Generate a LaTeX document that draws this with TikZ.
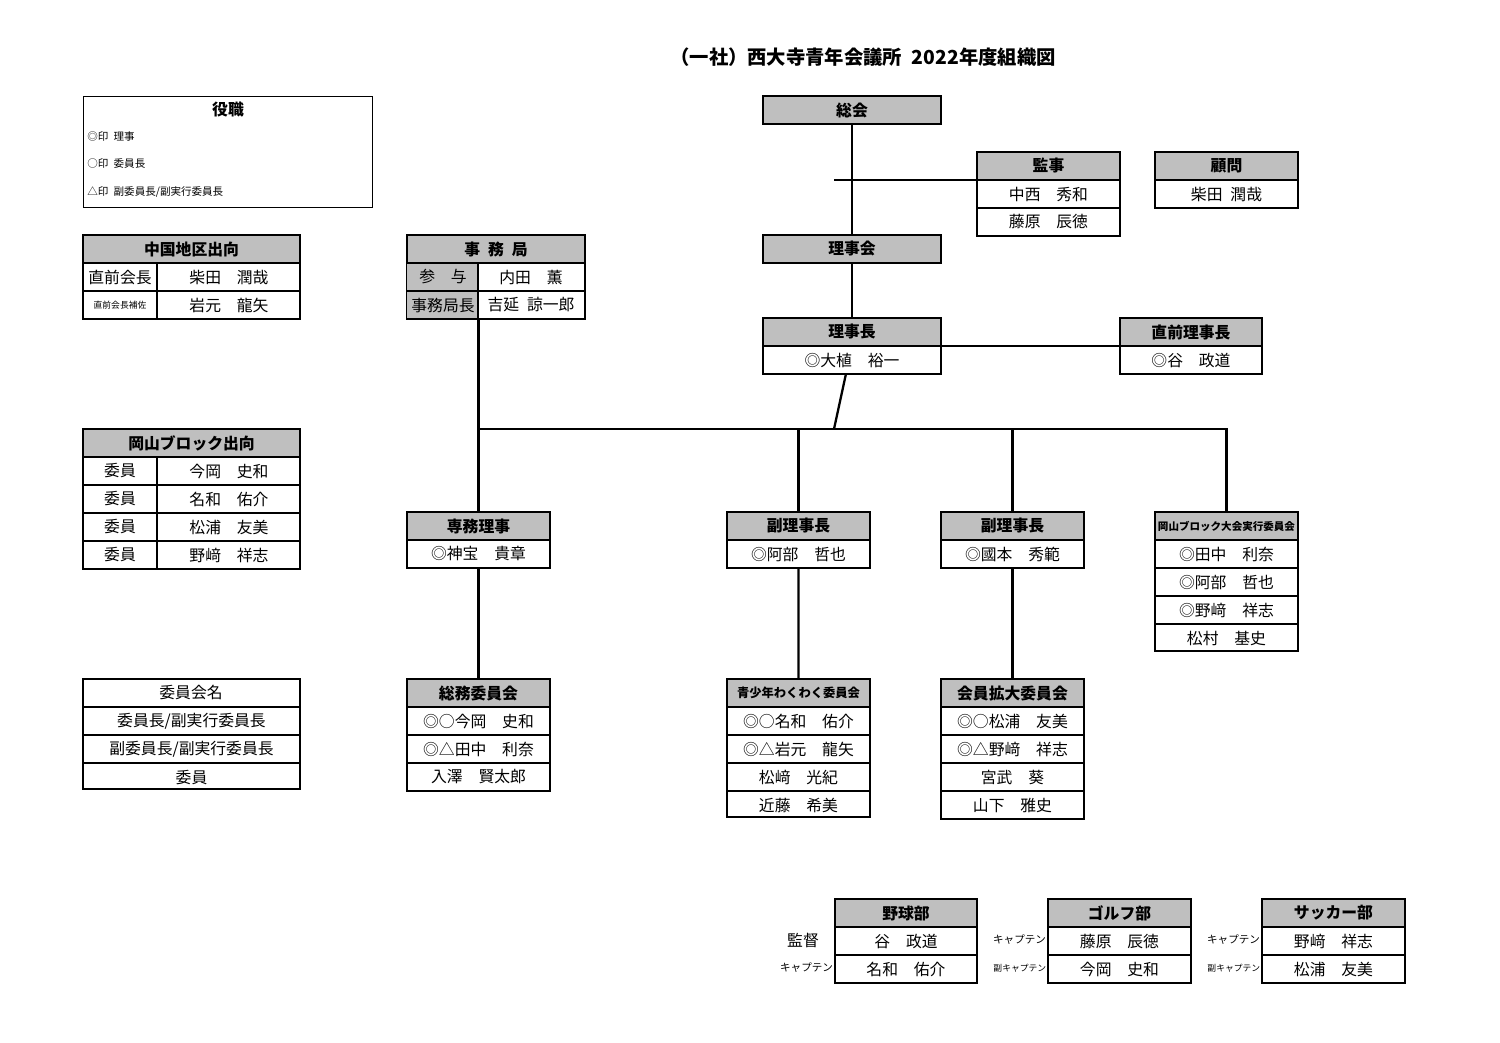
\documentclass[tikz,border=0pt]{standalone}
\usepackage{fontspec}
\setmainfont{Noto Sans CJK JP}
\usetikzlibrary{positioning, calc}

\tikzset{
  outerbox/.style={draw=black, line width=1.3pt, inner sep=0pt, outer sep=0pt},
  innerline/.style={draw=black, line width=0.6pt},
  headfill/.style={fill=black!25},
  link/.style={draw=black, line width=1.3pt},
  celltext/.style={inner sep=0pt, font=\fontsize{9}{10}\selectfont},
  headtext/.style={inner sep=0pt, font=\fontsize{9}{10}\selectfont\bfseries},
  smalltext/.style={inner sep=0pt, font=\fontsize{6}{7}\selectfont},
}

% #1 name, #2 left, #3 top, #4 width, #5 number of rows, #6 header
\newcommand\orgbox[6]{%
  \fill[headfill] (#2,#3) rectangle ++(#4,28);
  \node[headtext] at (#2+#4/2,#3+14) {#6};
  \node[outerbox, minimum width={#4*0.02cm}, minimum height={(28*#5+28)*0.02cm},
        anchor=north west] (#1) at (#2,#3) {};
}
% single column rows: #1 left, #2 top of first row, #3 width, #4 list
\newcommand\orgrows[4]{%
  \foreach \t [count=\k] in {#4} {
    \draw[innerline] (#1,#2+28*\k-28) -- ++(#3,0);
    \node[celltext] at (#1+#3/2,#2+28*\k-14) {\t};
  }
}
% two column rows: #1 left, #2 top, #3 width, #4 divider x, #5 list a/b
\newcommand\orgrowsii[5]{%
  \draw[innerline] (#4,#2) -- ++(0,28*\value{dummy});
}

\begin{document}
\begin{tikzpicture}[x=0.02cm, y=-0.02cm]
  \fill[white] (0,0) rectangle (1500,1042);
  \useasboundingbox (0,0) rectangle (1500,1042);

  % title
  \node[inner sep=0pt, font=\fontsize{11}{12}\selectfont\bfseries] (title) at (863,57)
    {（一社）西大寺青年会議所\enspace 2022年度組織図};

  % legend of posts
  \node[draw, line width=0.8pt, minimum width=5.78cm, minimum height=2.22cm,
        anchor=north west, inner sep=0pt] (yakushoku) at (83,96) {};
  \node[headtext] at (228,110) {役職};
  \node[smalltext, anchor=west] at (87,137) {◎印\enspace 理事};
  \node[smalltext, anchor=west] at (87,164) {○印\enspace 委員長};
  \node[smalltext, anchor=west] at (87,192) {△印\enspace 副委員長/副実行委員長};

  % left column
  \orgbox{chugoku}{83}{235}{217}{2}{中国地区出向}
  \foreach \a/\b [count=\k] in {{\fontsize{9}{10}\selectfont 直前会長}/柴田\quad 潤哉, {\fontsize{5}{6}\selectfont 直前会長補佐}/岩元\quad 龍矢} {
    \draw[innerline] (83,235+28*\k) -- ++(217,0);
    \node[celltext] at (120,249+28*\k) {\a};
    \node[celltext] at (229,249+28*\k) {\b};
  }
  \draw[innerline] (157,263) -- (157,318);

  \orgbox{okablock}{83}{429}{217}{4}{岡山ブロック出向}
  \foreach \b [count=\k] in {今岡\quad 史和, 名和\quad 佑介, 松浦\quad 友美, 野﨑\quad 祥志} {
    \draw[innerline] (83,429+28*\k) -- ++(217,0);
    \node[celltext] at (120,443+28*\k) {委員};
    \node[celltext] at (229,443+28*\k) {\b};
  }
  \draw[innerline] (157,457) -- (157,568);

  \node[outerbox, minimum width=4.34cm, minimum height=2.2cm, anchor=north west]
    (iinkaimei) at (83,679) {};
  \node[celltext] at (191,692) {委員会名};
  \orgrows{83}{707}{217}{委員長/副実行委員長, 副委員長/副実行委員長, 委員}

  % secretariat
  \orgbox{jimukyoku}{407}{235}{178}{2}{事\enspace 務\enspace 局}
  \fill[headfill] (407,263) rectangle (478,318);
  \foreach \a/\b [count=\k] in {参\quad 与/内田\quad 薫, 事務局長/吉延\enspace 諒一郎} {
    \draw[innerline] (407,235+28*\k) -- ++(178,0);
    \node[celltext] at (443,249+28*\k) {\a};
    \node[celltext] at (531,249+28*\k) {\b};
  }
  \draw[innerline] (478,263) -- (478,318);

  % top of the tree
  \orgbox{soukai}{763}{96}{178}{0}{総会}
  \orgbox{kanji}{977}{152}{143}{2}{監事}
  \orgrows{977}{180}{143}{中西\quad 秀和, 藤原\quad 辰徳}
  \orgbox{komon}{1155}{152}{143}{1}{顧問}
  \orgrows{1155}{180}{143}{柴田\enspace 潤哉}
  \orgbox{rijikai}{763}{235}{178}{0}{理事会}
  \orgbox{rijicho}{763}{318}{178}{1}{理事長}
  \orgrows{763}{346}{178}{◎大植\quad 裕一}
  \orgbox{chokuzen}{1120}{318}{142}{1}{直前理事長}
  \orgrows{1120}{346}{142}{◎谷\quad 政道}

  % vice directors
  \orgbox{senmu}{407}{512}{143}{1}{専務理事}
  \orgrows{407}{540}{143}{◎神宝\quad 貴章}
  \orgbox{fukuA}{727}{512}{143}{1}{副理事長}
  \orgrows{727}{540}{143}{◎阿部\quad 哲也}
  \orgbox{fukuB}{941}{512}{143}{1}{副理事長}
  \orgrows{941}{540}{143}{◎國本\quad 秀範}
  \fill[headfill] (1155,512) rectangle ++(143,28);
  \node[smalltext, font=\fontsize{6}{7}\selectfont\bfseries] at (1226.5,526) {岡山ブロック大会実行委員会};
  \node[outerbox, minimum width=2.86cm, minimum height=2.78cm, anchor=north west]
    (taikai) at (1155,512) {};
  \orgrows{1155}{540}{143}{◎田中\quad 利奈, ◎阿部\quad 哲也, ◎野﨑\quad 祥志, 松村\quad 基史}

  % committees
  \orgbox{soumu}{407}{679}{143}{3}{総務委員会}
  \orgrows{407}{707}{143}{◎○今岡\quad 史和, ◎△田中\quad 利奈, 入澤\quad 賢太郎}
  \fill[headfill] (727,679) rectangle ++(143,28);
  \node[smalltext, font=\fontsize{7}{8}\selectfont\bfseries] at (798.5,693) {青少年わくわく委員会};
  \node[outerbox, minimum width=2.86cm, minimum height=2.76cm, anchor=north west]
    (seishonen) at (727,679) {};
  \orgrows{727}{707}{143}{◎○名和\quad 佑介, ◎△岩元\quad 龍矢, 松﨑\quad 光紀, 近藤\quad 希美}
  \orgbox{kakudai}{941}{679}{143}{4}{会員拡大委員会}
  \orgrows{941}{707}{143}{◎○松浦\quad 友美, ◎△野﨑\quad 祥志, 宮武\quad 葵, 山下\quad 雅史}

  % clubs
  \orgbox{yakyu}{835}{899}{142}{2}{野球部}
  \orgrows{835}{927}{142}{谷\quad 政道, 名和\quad 佑介}
  \orgbox{golf}{1048}{899}{143}{2}{ゴルフ部}
  \orgrows{1048}{927}{143}{藤原\quad 辰徳, 今岡\quad 史和}
  \orgbox{soccer}{1262}{899}{143}{2}{サッカー部}
  \orgrows{1262}{927}{143}{野﨑\quad 祥志, 松浦\quad 友美}
  \node[celltext, anchor=east] (kantoku) at (yakyu.west |- 0,940) {監督\enspace\enspace};
  \node[smalltext, anchor=east] (capA) at (yakyu.west |- 0,968) {キャプテン\,};
  \node[smalltext, anchor=east] (capB) at (golf.west |- 0,940) {キャプテン\,};
  \node[smalltext, font=\fontsize{5}{6}\selectfont, anchor=east] (vcapB) at (golf.west |- 0,968) {副キャプテン\,};
  \node[smalltext, anchor=east] (capC) at (soccer.west |- 0,940) {キャプテン\,};
  \node[smalltext, font=\fontsize{5}{6}\selectfont, anchor=east] (vcapC) at (soccer.west |- 0,968) {副キャプテン\,};

  % connectors
  \coordinate (kbranch) at (834,180);
  \coordinate (bus) at (834,429);
  \draw[link] (soukai) -- (rijikai);
  \draw[link] (kbranch) -- (kbranch -| kanji.west);
  \draw[link] (rijikai) -- (rijicho);
  \draw[link] (rijicho) -- (chokuzen);
  \draw[link] (rijicho) -- (bus);
  \draw[link] (senmu.north |- jimukyoku.south) -- (senmu.north);
  \draw[link] (senmu.north |- bus) -- (taikai.north |- bus) -- (taikai.north);
  \draw[link] (fukuA.north |- bus) -- (fukuA.north);
  \draw[link] (fukuB.north |- bus) -- (fukuB.north);
  \draw[link] (senmu) -- (soumu);
  \draw[link] (fukuA.south) -- (seishonen.north);
  \draw[link] (fukuB.south) -- (kakudai.north);
\end{tikzpicture}
\end{document}
